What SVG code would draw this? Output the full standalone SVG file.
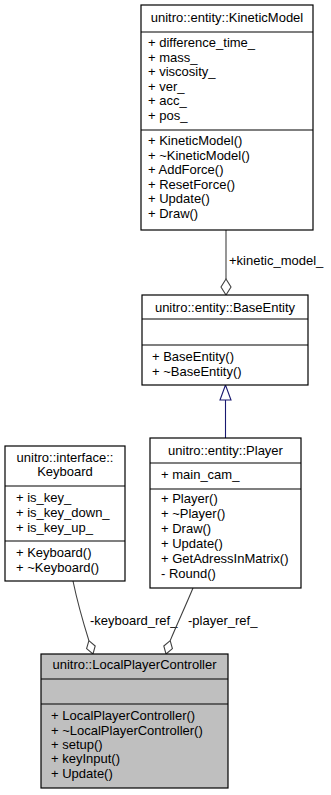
<svg xmlns="http://www.w3.org/2000/svg" width="331" height="795" viewBox="0 0 331 795">
  <style>
    text { font-family: "Liberation Sans", Arial, Helvetica, sans-serif; font-size: 13px; fill: #000; }
    .c { text-anchor: middle; }
    .box { fill: #fff; stroke: #000; stroke-width: 1.2; }
    .sel { fill: #bfbfbf; stroke: #000; stroke-width: 1.2; }
    .sep { stroke: #000; stroke-width: 1.2; }
    .agg { fill: none; stroke: #404040; stroke-width: 1.1; }
    .dia { fill: #fff; stroke: #404040; stroke-width: 1.1; }
    .inh { fill: none; stroke: #191970; stroke-width: 1.1; }
    .tri { fill: #fff; stroke: #191970; stroke-width: 1.1; }
  </style>

  <!-- relations -->
  <g id="connectors">
    <!-- KineticModel aggregated by BaseEntity -->
    <line class="agg" x1="226" y1="230" x2="226" y2="279"/>
    <polygon class="dia" points="226,295 221,287 226,279 231,287"/>
    <text x="229" y="265">+kinetic_model_</text>

    <!-- Player inherits BaseEntity -->
    <line class="inh" x1="225.5" y1="400" x2="225.5" y2="438"/>
    <polygon class="tri" points="225.5,385 220,400 231,400"/>

    <!-- Keyboard aggregated by LocalPlayerController -->
    <path class="agg" d="M73,581 C78,605 84,625 88.9,640.6"/>
    <polygon class="dia" points="93,654 95.2,646 88.9,640.6 86.6,648.6"/>
    <text x="90" y="625">-keyboard_ref_</text>

    <!-- Player aggregated by LocalPlayerController -->
    <path class="agg" d="M193,588 C186,605 178,622 170.2,640.6"/>
    <polygon class="dia" points="166,654 172.4,648.6 170.2,640.6 163.8,646"/>
    <text x="188" y="625">-player_ref_</text>
  </g>

  <g id="KineticModel">
    <rect class="box" x="141" y="5" width="172" height="225"/>
    <line class="sep" x1="141" y1="32" x2="313" y2="32"/>
    <line class="sep" x1="141" y1="130" x2="313" y2="130"/>
    <text class="c" x="227" y="22">unitro::entity::KineticModel</text>
    <text x="148" y="47">+ difference_time_</text>
    <text x="148" y="61.5">+ mass_</text>
    <text x="148" y="76">+ viscosity_</text>
    <text x="148" y="90.5">+ ver_</text>
    <text x="148" y="105">+ acc_</text>
    <text x="148" y="119.5">+ pos_</text>
    <text x="148" y="145">+ KineticModel()</text>
    <text x="148" y="159.5">+ ~KineticModel()</text>
    <text x="148" y="174">+ AddForce()</text>
    <text x="148" y="188.5">+ ResetForce()</text>
    <text x="148" y="203">+ Update()</text>
    <text x="148" y="217.5">+ Draw()</text>
  </g>

  <g id="BaseEntity">
    <rect class="box" x="142" y="295" width="166" height="90"/>
    <line class="sep" x1="142" y1="319" x2="308" y2="319"/>
    <line class="sep" x1="142" y1="345" x2="308" y2="345"/>
    <text class="c" x="225" y="312">unitro::entity::BaseEntity</text>
    <text x="152" y="361">+ BaseEntity()</text>
    <text x="152" y="375.5">+ ~BaseEntity()</text>
  </g>

  <g id="Keyboard">
    <rect class="box" x="5" y="446" width="120" height="135"/>
    <line class="sep" x1="5" y1="486" x2="125" y2="486"/>
    <line class="sep" x1="5" y1="541" x2="125" y2="541"/>
    <text class="c" x="65" y="462">unitro::interface::</text>
    <text class="c" x="65" y="476">Keyboard</text>
    <text x="16" y="502">+ is_key_</text>
    <text x="16" y="517">+ is_key_down_</text>
    <text x="16" y="532">+ is_key_up_</text>
    <text x="16" y="557">+ Keyboard()</text>
    <text x="16" y="572">+ ~Keyboard()</text>
  </g>

  <g id="Player">
    <rect class="box" x="150" y="438" width="151" height="150"/>
    <line class="sep" x1="150" y1="463" x2="301" y2="463"/>
    <line class="sep" x1="150" y1="489" x2="301" y2="489"/>
    <text class="c" x="225.5" y="455">unitro::entity::Player</text>
    <text x="161" y="479">+ main_cam_</text>
    <text x="161" y="503">+ Player()</text>
    <text x="161" y="518">+ ~Player()</text>
    <text x="161" y="533">+ Draw()</text>
    <text x="161" y="548">+ Update()</text>
    <text x="161" y="563">+ GetAdressInMatrix()</text>
    <text x="161" y="578">- Round()</text>
  </g>

  <g id="LocalPlayerController">
    <rect class="sel" x="41" y="654" width="187" height="134"/>
    <line class="sep" x1="41" y1="679" x2="228" y2="679"/>
    <line class="sep" x1="41" y1="704" x2="228" y2="704"/>
    <text class="c" x="134.5" y="669">unitro::LocalPlayerController</text>
    <text x="51" y="720">+ LocalPlayerController()</text>
    <text x="51" y="734.5">+ ~LocalPlayerController()</text>
    <text x="51" y="749">+ setup()</text>
    <text x="51" y="763">+ keyInput()</text>
    <text x="51" y="777.5">+ Update()</text>
  </g>
</svg>
